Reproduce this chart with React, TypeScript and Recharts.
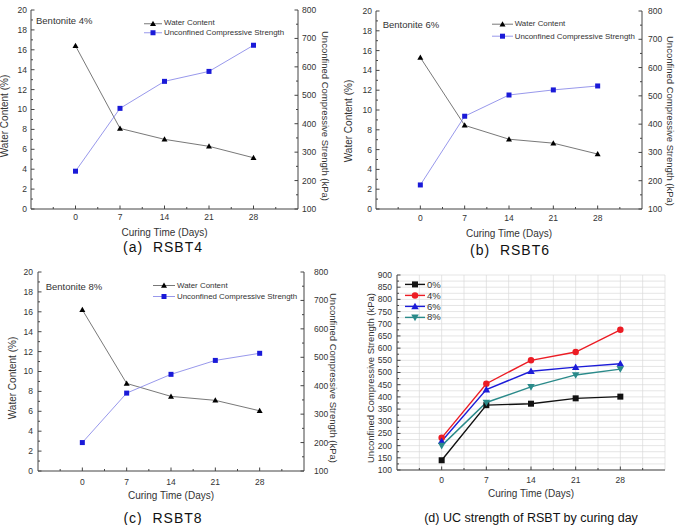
import React from 'react';
import { CartesianGrid, Legend, Line, LineChart, XAxis, YAxis } from 'recharts';

// curing days and axis ticks (minor ticks sit between the labelled ones)
const days = [0, 7, 14, 21, 28];
const dayTicks = [-3.5, 0, 3.5, 7, 10.5, 14, 17.5, 21, 24.5, 28, 31.5];
const dayLabels = [0, 7, 14, 21, 28];

const waterTicks = [0, 1, 2, 3, 4, 5, 6, 7, 8, 9, 10, 11, 12, 13, 14, 15, 16, 17, 18, 19, 20];
const waterLabels = [0, 2, 4, 6, 8, 10, 12, 14, 16, 18, 20];
const ucsTicks = [100, 150, 200, 250, 300, 350, 400, 450, 500, 550, 600, 650, 700, 750, 800];
const ucsLabels = [100, 200, 300, 400, 500, 600, 700, 800];
const strengthTicks = [
  100, 125, 150, 175, 200, 225, 250, 275, 300, 325, 350, 375, 400, 425, 450, 475, 500,
  525, 550, 575, 600, 625, 650, 675, 700, 725, 750, 775, 800, 825, 850, 875, 900,
];
const strengthLabels = [100, 150, 200, 250, 300, 350, 400, 450, 500, 550, 600, 650, 700, 750, 800, 850, 900];

// RSBT4 / RSBT6 / RSBT8: water content (%) and UCS (kPa)
const waterRSBT4 = [16.4, 8.1, 7.0, 6.3, 5.15];
const ucsRSBT4 = [233, 454, 549, 584, 676];
const waterRSBT6 = [15.3, 8.45, 7.05, 6.65, 5.55];
const ucsRSBT6 = [185, 428, 503, 521, 535];
const waterRSBT8 = [16.2, 8.8, 7.5, 7.1, 6.05];
const ucsRSBT8 = [200, 374, 440, 489, 514];

// UC strength by bentonite content
const strength0 = [140, 366, 372, 394, 401];
const strength4 = [232, 454, 550, 584, 675];
const strength6 = [218, 430, 505, 522, 536];
const strength8 = [200, 377, 441, 490, 514];

const AXIS = '#444';
const TEXT = '#333';
const FONT = '"Liberation Sans", Arial, sans-serif';

type Shape = 'square' | 'circle' | 'up' | 'down';
type SeriesStyle = { stroke: string; fill: string; shape: Shape; size: number; width: number };

const seriesStyle: Record<string, SeriesStyle> = {
  'Water Content': { stroke: '#555', fill: '#000', shape: 'up', size: 6, width: 0.8 },
  'Unconfined Compressive Strength': { stroke: '#7d7de6', fill: '#1a1ad8', shape: 'square', size: 5, width: 0.8 },
  '0%': { stroke: '#111', fill: '#111', shape: 'square', size: 6, width: 1.4 },
  '4%': { stroke: '#ec1c24', fill: '#ec1c24', shape: 'circle', size: 6.5, width: 1.4 },
  '6%': { stroke: '#1c1cd8', fill: '#1c1cd8', shape: 'up', size: 7.5, width: 1.4 },
  '8%': { stroke: '#2a8a8a', fill: '#2a8a8a', shape: 'down', size: 7.5, width: 1.4 },
};
const seriesOrder = Object.keys(seriesStyle);

function Marker({ cx, cy, shape, fill, size }: { cx: number; cy: number; shape: Shape; fill: string; size: number }) {
  const s = size / 2;
  if (shape === 'square') return <rect x={cx - s} y={cy - s} width={size} height={size} fill={fill} />;
  if (shape === 'circle') return <circle cx={cx} cy={cy} r={s} fill={fill} />;
  if (shape === 'up')
    return <polygon points={`${cx},${cy - s} ${cx + s},${cy + s * 0.75} ${cx - s},${cy + s * 0.75}`} fill={fill} />;
  return <polygon points={`${cx},${cy + s} ${cx + s},${cy - s * 0.75} ${cx - s},${cy - s * 0.75}`} fill={fill} />;
}

const dotFor = (name: string) => (p: any) => {
  const st = seriesStyle[name];
  if (p.cx == null || p.cy == null) return <g key={p.index} />;
  return <Marker key={p.index} cx={p.cx} cy={p.cy} shape={st.shape} fill={st.fill} size={st.size} />;
};

type Side = 'left' | 'right' | 'bottom' | 'top';

// ticks point into the plot, labels stay outside
const makeTick = (side: Side, labels: number[], gap: number, showText = true) => (p: any) => {
  const { x, y, payload } = p;
  const v = payload.value;
  const major = labels.includes(v);
  const len = major ? 3.5 : 2;
  const txt = { fontSize: 8.5, fill: TEXT, fontFamily: FONT };
  let line: React.ReactNode = null;
  let label: React.ReactNode = null;
  if (side === 'left') {
    const ax = x + gap;
    line = <line x1={ax} x2={ax + len} y1={y} y2={y} stroke={AXIS} />;
    if (showText && major) label = <text x={x} y={y} dy="0.35em" textAnchor="end" {...txt}>{v}</text>;
  } else if (side === 'right') {
    const ax = x - gap;
    line = <line x1={ax - len} x2={ax} y1={y} y2={y} stroke={AXIS} />;
    if (showText && major) label = <text x={x} y={y} dy="0.35em" textAnchor="start" {...txt}>{v}</text>;
  } else if (side === 'bottom') {
    const ay = y - gap;
    line = <line x1={x} x2={x} y1={ay - len} y2={ay} stroke={AXIS} />;
    if (showText && major) label = <text x={x} y={y} dy="0.71em" textAnchor="middle" {...txt}>{v}</text>;
  } else {
    const ay = y + gap;
    line = <line x1={x} x2={x} y1={ay} y2={ay + len} stroke={AXIS} />;
  }
  return (
    <g>
      {line}
      {label}
    </g>
  );
};

const axisTitle = (text: string, cx: number, cy: number, angle: number, size = 10) => ({
  content: () => (
    <text
      x={cx}
      y={cy}
      transform={angle ? `rotate(${angle} ${cx} ${cy})` : undefined}
      textAnchor="middle"
      dominantBaseline="central"
      fontSize={size}
      fill={TEXT}
      fontFamily={FONT}
    >
      {text}
    </text>
  ),
});

type LegendCfg = { left: number; top: number; row: number; line: number; font: number };

const legendContent = (cfg: LegendCfg) => (props: any) => {
  const items = [...(props.payload || [])].sort(
    (a: any, b: any) => seriesOrder.indexOf(a.value) - seriesOrder.indexOf(b.value),
  );
  return (
    <div style={{ fontFamily: FONT, fontSize: cfg.font, color: TEXT, lineHeight: 1 }}>
      {items.map((e: any) => {
        const st = seriesStyle[e.value];
        const mid = cfg.row / 2;
        return (
          <div key={e.value} style={{ display: 'flex', alignItems: 'center', height: cfg.row }}>
            <svg width={cfg.line} height={cfg.row} style={{ display: 'block' }}>
              <line x1={0} x2={cfg.line} y1={mid} y2={mid} stroke={st.stroke} strokeWidth={st.width} />
              <Marker cx={cfg.line / 2} cy={mid} shape={st.shape} fill={st.fill} size={st.size} />
            </svg>
            <span style={{ marginLeft: 2, whiteSpace: 'nowrap' }}>{e.value}</span>
          </div>
        );
      })}
    </div>
  );
};

type DualProps = {
  left: number;
  top: number;
  width: number;
  height: number;
  plotTop: number;
  leftW: number;
  rightW: number;
  bottomH: number;
  gapL: number;
  gapR: number;
  gapB: number;
  titleL: [number, number];
  titleR: [number, number];
  titleB: number;
  legend: LegendCfg;
  note: string;
  noteAt: [number, number];
  water: number[];
  ucs: number[];
};

function DualPanel(p: DualProps) {
  const rows = days.map((d, i) => ({ day: d, water: p.water[i], ucs: p.ucs[i] }));
  const plotCx = (p.leftW + p.width - p.rightW) / 2;
  return (
    <div style={{ position: 'absolute', left: p.left, top: p.top, width: p.width, height: p.height }}>
      <LineChart width={p.width} height={p.height} data={rows} margin={{ top: p.plotTop, right: 0, bottom: 0, left: 0 }}>
        <XAxis
          dataKey="day"
          type="number"
          domain={[-7, 35]}
          ticks={dayTicks}
          interval={0}
          allowDataOverflow
          height={p.bottomH}
          axisLine={{ stroke: AXIS }}
          tickLine={false}
          tickSize={0}
          tickMargin={p.gapB}
          tick={makeTick('bottom', dayLabels, p.gapB)}
          label={axisTitle('Curing Time (Days)', plotCx, p.titleB, 0)}
        />
        <XAxis
          xAxisId="top"
          orientation="top"
          type="number"
          domain={[-7, 35]}
          ticks={dayTicks}
          interval={0}
          allowDataOverflow
          height={0}
          axisLine={{ stroke: AXIS }}
          tickLine={false}
          tickSize={0}
          tickMargin={0}
          tick={makeTick('top', dayLabels, 0, false)}
        />
        <YAxis
          yAxisId="water"
          type="number"
          domain={[0, 20]}
          ticks={waterTicks}
          interval={0}
          allowDataOverflow
          width={p.leftW}
          axisLine={{ stroke: AXIS }}
          tickLine={false}
          tickSize={0}
          tickMargin={p.gapL}
          tick={makeTick('left', waterLabels, p.gapL)}
          label={axisTitle('Water Content (%)', p.titleL[0], p.titleL[1], -90)}
        />
        <YAxis
          yAxisId="ucs"
          orientation="right"
          type="number"
          domain={[100, 800]}
          ticks={ucsTicks}
          interval={0}
          allowDataOverflow
          width={p.rightW}
          axisLine={{ stroke: AXIS }}
          tickLine={false}
          tickSize={0}
          tickMargin={p.gapR}
          tick={makeTick('right', ucsLabels, p.gapR)}
          label={axisTitle('Unconfined Compressive Strength (kPa)', p.titleR[0], p.titleR[1], 90, 9.5)}
        />
        <Legend
          layout="vertical"
          align="center"
          verticalAlign="middle"
          content={legendContent(p.legend)}
          wrapperStyle={{ left: p.legend.left, top: p.legend.top, width: 'auto', height: 'auto' }}
        />
        <Line
          yAxisId="water"
          dataKey="water"
          name="Water Content"
          stroke={seriesStyle['Water Content'].stroke}
          strokeWidth={seriesStyle['Water Content'].width}
          dot={dotFor('Water Content')}
          isAnimationActive={false}
        />
        <Line
          yAxisId="ucs"
          dataKey="ucs"
          name="Unconfined Compressive Strength"
          stroke={seriesStyle['Unconfined Compressive Strength'].stroke}
          strokeWidth={seriesStyle['Unconfined Compressive Strength'].width}
          dot={dotFor('Unconfined Compressive Strength')}
          isAnimationActive={false}
        />
      </LineChart>
      <div
        style={{
          position: 'absolute',
          left: p.noteAt[0],
          top: p.noteAt[1],
          transform: 'translateY(-50%)',
          fontFamily: FONT,
          fontSize: 9.5,
          color: TEXT,
          whiteSpace: 'nowrap',
        }}
      >
        {p.note}
      </div>
    </div>
  );
}

const strengthSeries: [string, number[]][] = [
  ['0%', strength0],
  ['4%', strength4],
  ['6%', strength6],
  ['8%', strength8],
];

function StrengthPanel() {
  const rows = days.map((d, i) => {
    const r: Record<string, number> = { day: d };
    strengthSeries.forEach(([name, vals]) => (r[name] = vals[i]));
    return r;
  });
  const width = 335;
  const height = 265;
  return (
    <div style={{ position: 'absolute', left: 340, top: 260, width, height }}>
      <LineChart width={width} height={height} data={rows} margin={{ top: 15, right: 10, bottom: 0, left: 0 }}>
        <CartesianGrid stroke="#dadada" strokeWidth={0.7} />
        <XAxis
          dataKey="day"
          type="number"
          domain={[-7, 35]}
          ticks={dayTicks}
          interval={0}
          allowDataOverflow
          height={55}
          axisLine={{ stroke: AXIS }}
          tickLine={false}
          tickSize={0}
          tickMargin={7}
          tick={makeTick('bottom', dayLabels, 7)}
          label={axisTitle('Curing Time (Days)', 191, 233, 0)}
        />
        <XAxis
          xAxisId="top"
          orientation="top"
          type="number"
          domain={[-7, 35]}
          ticks={dayTicks}
          interval={0}
          allowDataOverflow
          height={0}
          axisLine={{ stroke: AXIS }}
          tickLine={false}
          tickSize={0}
          tickMargin={0}
          tick={makeTick('top', dayLabels, 0, false)}
        />
        <YAxis
          type="number"
          domain={[100, 900]}
          ticks={strengthTicks}
          interval={0}
          allowDataOverflow
          width={57}
          axisLine={{ stroke: AXIS }}
          tickLine={false}
          tickSize={0}
          tickMargin={5}
          tick={makeTick('left', strengthLabels, 5)}
          label={axisTitle('Unconfined Compressive Strength (kPa)', 30, 118, -90, 9.5)}
        />
        <YAxis
          yAxisId="mirror"
          orientation="right"
          type="number"
          domain={[100, 900]}
          ticks={strengthTicks}
          interval={0}
          allowDataOverflow
          width={0}
          axisLine={{ stroke: AXIS }}
          tickLine={false}
          tickSize={0}
          tickMargin={0}
          tick={makeTick('right', strengthLabels, 0, false)}
        />
        <Legend
          layout="vertical"
          align="center"
          verticalAlign="middle"
          content={legendContent({ left: 65, top: 19.3, row: 10.8, line: 20, font: 9.5 })}
          wrapperStyle={{ left: 65, top: 19.3, width: 'auto', height: 'auto' }}
        />
        {strengthSeries.map(([name]) => (
          <Line
            key={name}
            dataKey={name}
            name={name}
            stroke={seriesStyle[name].stroke}
            strokeWidth={seriesStyle[name].width}
            dot={dotFor(name)}
            isAnimationActive={false}
          />
        ))}
      </LineChart>
    </div>
  );
}

const captionStyle: React.CSSProperties = {
  position: 'absolute',
  transform: 'translate(-50%, -50%)',
  fontFamily: FONT,
  fontSize: 14,
  color: '#111',
  whiteSpace: 'pre',
};

export default function App() {
  return (
    <div style={{ position: 'absolute', left: 0, top: 0, width: 675, height: 525, background: '#fff', overflow: 'hidden' }}>
      <DualPanel
        left={0}
        top={0}
        width={340}
        height={240}
        plotTop={10}
        leftW={31}
        rightW={42}
        bottomH={31}
        gapL={4}
        gapR={4}
        gapB={5}
        titleL={[4.5, 116]}
        titleR={[325, 116]}
        titleB={232}
        legend={{ left: 144, top: 18.5, row: 9.5, line: 18, font: 7.9 }}
        note="Bentonite 4%"
        noteAt={[36, 20]}
        water={waterRSBT4}
        ucs={ucsRSBT4}
      />
      <DualPanel
        left={340}
        top={0}
        width={335}
        height={240}
        plotTop={11}
        leftW={36}
        rightW={33}
        bottomH={31}
        gapL={4}
        gapR={6}
        gapB={6}
        titleL={[8.5, 121]}
        titleR={[330, 121]}
        titleB={233}
        legend={{ left: 151.7, top: 18.1, row: 12.4, line: 21, font: 7.9 }}
        note="Bentonite 6%"
        noteAt={[42.7, 24]}
        water={waterRSBT6}
        ucs={ucsRSBT6}
      />
      <DualPanel
        left={0}
        top={260}
        width={340}
        height={265}
        plotTop={12}
        leftW={38}
        rightW={36}
        bottomH={54}
        gapL={5}
        gapR={10}
        gapB={8}
        titleL={[12.5, 118]}
        titleR={[333, 118]}
        titleB={235}
        legend={{ left: 153, top: 20.2, row: 11, line: 22, font: 7.9 }}
        note="Bentonite 8%"
        noteAt={[45.7, 25.7]}
        water={waterRSBT8}
        ucs={ucsRSBT8}
      />
      <StrengthPanel />
      <div style={{ ...captionStyle, left: 163, top: 247, letterSpacing: 1 }}>{'(a)  RSBT4'}</div>
      <div style={{ ...captionStyle, left: 510, top: 250, letterSpacing: 1 }}>{'(b)  RSBT6'}</div>
      <div style={{ ...captionStyle, left: 163, top: 518, letterSpacing: 1 }}>{'(c)  RSBT8'}</div>
      <div style={{ ...captionStyle, left: 531, top: 518, fontSize: 12.5 }}>{'(d) UC strength of RSBT by curing day'}</div>
    </div>
  );
}
